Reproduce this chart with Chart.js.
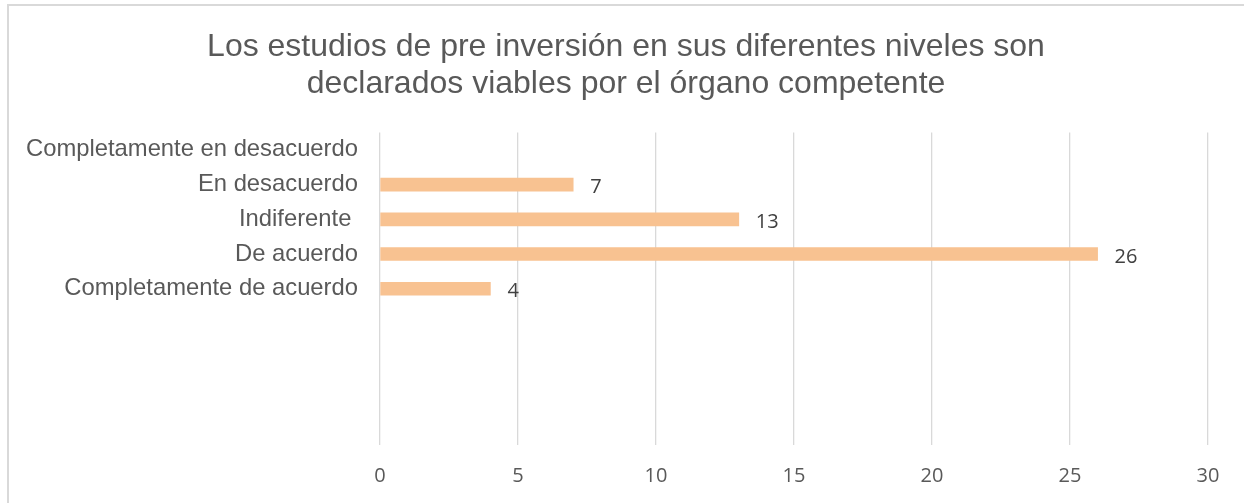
<!DOCTYPE html>
<html>
<head>
<meta charset="utf-8">
<script src="https://cdn.jsdelivr.net/npm/chart.js@4.4.1/dist/chart.umd.min.js"></script>
<style>
  html, body { margin: 0; padding: 0; background: #fff; }
  #wrap { width: 1244px; height: 503px; position: relative; }
</style>
</head>
<body>
<div id="wrap"><canvas id="chart" width="1244" height="503"></canvas></div>
<script>
// Datos del gráfico
const categories = [
  'Completamente en desacuerdo',
  'En desacuerdo',
  'Indiferente ',
  'De acuerdo',
  'Completamente de acuerdo',
  '', '', '', ''
];
const values = [null, 7, 13, 26, 4, null, null, null, null];
const xTicks = [0, 5, 10, 15, 20, 25, 30];
const titleLines = [
  'Los estudios de pre inversión en sus diferentes niveles son',
  'declarados viables por el órgano competente'
];

const gray = '#595959';
const gridGray = '#d9d9d9';

// marco gris (solo arriba e izquierda) y título centrado en el lienzo
const framePlugin = {
  id: 'frame',
  beforeDraw(chart) {
    const ctx = chart.ctx;
    ctx.save();
    ctx.fillStyle = '#fff';
    ctx.fillRect(0, 0, chart.width, chart.height);
    ctx.strokeStyle = gridGray;
    ctx.lineWidth = 2;
    ctx.beginPath();
    ctx.moveTo(8, chart.height);
    ctx.lineTo(8, 5);
    ctx.lineTo(chart.width, 5);
    ctx.stroke();

    ctx.font = '32px "Liberation Sans", Arial, sans-serif';
    ctx.fillStyle = gray;
    ctx.textAlign = 'center';
    ctx.textBaseline = 'middle';
    titleLines.forEach((line, i) => ctx.fillText(line, 626, 47 + i * 37));
    ctx.restore();
  }
};

// etiquetas de valor a la derecha de cada barra
const valueLabels = {
  id: 'valueLabels',
  afterDatasetsDraw(chart) {
    const ctx = chart.ctx;
    const meta = chart.getDatasetMeta(0);
    ctx.save();
    ctx.font = '20px "Open Sans", "Noto Sans", sans-serif';
    ctx.fillStyle = '#404040';
    ctx.textAlign = 'left';
    ctx.textBaseline = 'middle';
    meta.data.forEach((bar, i) => {
      const v = values[i];
      if (v == null) return;
      ctx.fillText(String(v), bar.x + 17, bar.y + 3);
    });
    ctx.restore();
  }
};

new Chart(document.getElementById('chart'), {
  type: 'bar',
  data: {
    labels: categories,
    datasets: [{
      data: values,
      backgroundColor: '#f8c291',
      borderWidth: 0,
      barThickness: 13
    }]
  },
  options: {
    indexAxis: 'y',
    responsive: false,
    animation: false,
    layout: { padding: { top: 132.5, right: 36, left: 0, bottom: 0 } },
    plugins: {
      legend: { display: false },
      tooltip: { enabled: false },
      title: { display: false }
    },
    scales: {
      x: {
        min: 0,
        max: 30,
        afterBuildTicks: (scale) => { scale.ticks = xTicks.map(v => ({ value: v })); },
        afterFit: (scale) => { scale.height = 58; },
        grid: { color: gridGray, lineWidth: 1.3, drawTicks: false },
        border: { display: false },
        ticks: {
          color: gray,
          padding: 19,
          font: { family: '"Open Sans", "Noto Sans", sans-serif', size: 20 }
        }
      },
      y: {
        afterFit: (scale) => { scale.width = 380; },
        grid: { display: false, drawTicks: false },
        border: { display: false },
        ticks: {
          color: gray,
          padding: 22,
          autoSkip: false,
          font: { family: '"Liberation Sans", Arial, sans-serif', size: 23.8 }
        }
      }
    }
  },
  plugins: [framePlugin, valueLabels]
});
</script>
</body>
</html>
